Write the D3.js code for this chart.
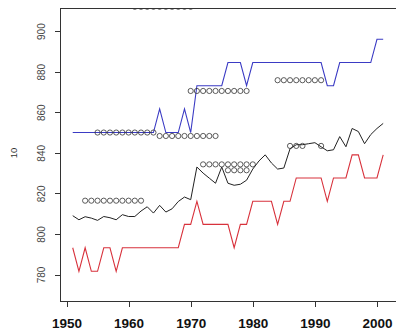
<!DOCTYPE html>
<meta charset="utf-8">
<style>

body {
  margin: 0;
  background: #fff;
}

svg {
  display: block;
}

.frame, .tick line {
  stroke: #333;
  stroke-width: 1px;
  fill: none;
  shape-rendering: crispEdges;
}

.ylab text {
  font: 10px "Liberation Sans", Arial, sans-serif;
  fill: #444;
}

.xlab text {
  font: bold 13.5px "Liberation Sans", Arial, sans-serif;
  fill: #111;
}

.mark {
  fill: none;
  stroke: #333;
  stroke-width: 0.8px;
}

</style>
<svg width="396" height="330"></svg>
<script src="https://cdnjs.cloudflare.com/ajax/libs/d3/7.8.5/d3.min.js"></script>
<script>

var firstYear = 1951;

var blue = [850, 850, 850, 850, 850, 850, 850, 850, 850, 850, 850, 850, 850, 850,
  861.7, 850, 850, 850, 861.7, 850,
  873.1, 873.1, 873.1, 873.1, 873.1, 884.5, 884.5, 884.5, 873.1,
  884.5, 884.5, 884.5, 884.5, 884.5, 884.5, 884.5, 884.5, 884.5, 884.5, 884.5, 884.5,
  873.1, 873.1, 884.5, 884.5, 884.5, 884.5, 884.5, 884.5, 896, 896];

var black = [809.0, 807.0, 808.5, 807.8, 806.7, 808.6, 808.0, 807.0, 809.5, 808.6,
  808.6, 811.3, 813.4, 810.3, 814.1, 810.8, 812.4, 816.0, 818.2, 816.9,
  833, 830, 827.5, 825, 833, 825, 824, 824.5, 826.5, 832,
  836, 839, 835, 832, 832.5, 842, 844, 844, 844.5, 845,
  843, 841, 841.5, 848, 843, 852, 850.5, 844.5, 849, 852, 854.5];

var red = [793.2, 781.6, 793.2, 781.6, 781.6, 793.2, 793.2, 781.6,
  793.2, 793.2, 793.2, 793.2, 793.2, 793.2, 793.2, 793.2, 793.2, 793.2,
  804.7, 804.7, 816.1, 804.7, 804.7, 804.7, 804.7, 804.7, 793.2, 804.7, 804.7,
  816.1, 816.1, 816.1, 816.1, 804.7, 816.1, 816.1,
  827.6, 827.6, 827.6, 827.6, 827.6, 816.1, 827.6, 827.6, 827.6,
  839, 839, 827.6, 827.6, 827.6, 839];

// runs of circles: [from year, to year, value]
var markRuns = [
  [1953, 1962, 816.4],
  [1955, 1964, 850],
  [1965, 1974, 848.3],
  [1961, 1970, 912],
  [1970, 1979, 870.5],
  [1972, 1980, 834.3],
  [1976, 1979, 831.4],
  [1984, 1991, 875.8],
  [1986, 1988, 843.4],
  [1991, 1991, 843.4]
];

var yTicks = [780, 800, 820, 840, 860, 880, 900];
var xTicks = [1950, 1960, 1970, 1980, 1990, 2000];
var yLabel = "10";

var svg = d3.select("svg"),
    pl = 60.3, pr = 395.6, pt = 8, pb = 301.7;

var x = d3.scaleLinear().domain([1949, 2003]).range([pl, pr]),
    y = d3.scaleLinear().domain([766.6, 911.4]).range([pb, pt]);

svg.append("clipPath").attr("id", "plot")
  .append("rect")
    .attr("x", pl).attr("y", pt)
    .attr("width", pr - pl).attr("height", pb - pt);

var g = svg.append("g").attr("clip-path", "url(#plot)");

var line = d3.line()
    .x(function(d, i) { return x(firstYear + i); })
    .y(function(d) { return y(d); });

g.append("path").datum(blue).attr("d", line)
    .attr("fill", "none").attr("stroke", "#3b3bc4").attr("stroke-width", 1.1);
g.append("path").datum(black).attr("d", line)
    .attr("fill", "none").attr("stroke", "#222").attr("stroke-width", 1);
g.append("path").datum(red).attr("d", line)
    .attr("fill", "none").attr("stroke", "#d8323c").attr("stroke-width", 1.1);

var marks = [];
markRuns.forEach(function(r) {
  for (var yr = r[0]; yr <= r[1]; yr++) marks.push([yr, r[2]]);
});

g.selectAll(".mark")
  .data(marks)
  .enter().append("circle")
    .attr("class", "mark")
    .attr("cx", function(d) { return x(d[0]); })
    .attr("cy", function(d) { return y(d[1]); })
    .attr("r", 2.6);

// frame (right side falls outside the picture)
svg.append("path")
    .attr("class", "frame")
    .attr("d", "M" + (pr + 2) + "," + pt + "H" + pl + "V" + pb + "H" + (pr + 2));

var ya = svg.append("g")
    .attr("class", "ylab")
    .attr("transform", "translate(" + pl + ",0)")
    .call(d3.axisLeft(y).tickValues(yTicks).tickSize(5.5).tickSizeOuter(0));
ya.select(".domain").remove();
ya.selectAll("text")
    .attr("x", null).attr("dy", null)
    .attr("text-anchor", "middle")
    .attr("transform", "translate(-15,0) rotate(-90)");

var xa = svg.append("g")
    .attr("class", "xlab")
    .attr("transform", "translate(0," + pb + ")")
    .call(d3.axisBottom(x).tickValues(xTicks).tickFormat(d3.format("d")).tickSize(5).tickSizeOuter(0));
xa.select(".domain").remove();
xa.selectAll("text")
    .attr("dy", null)
    .attr("y", 26.5);

svg.append("text")
    .attr("transform", "translate(16.5,153) rotate(-90)")
    .attr("text-anchor", "middle")
    .style("font", "9.5px 'Liberation Sans', Arial, sans-serif")
    .style("fill", "#333")
    .text(yLabel);

</script>
